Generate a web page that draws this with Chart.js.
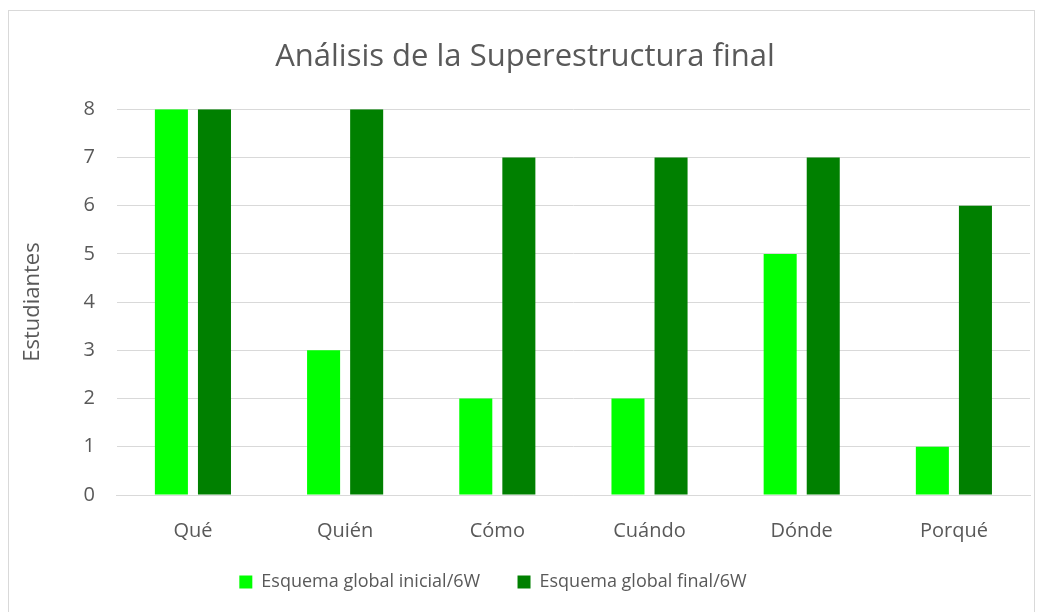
<!DOCTYPE html>
<html>
<head>
<meta charset="utf-8">
<script src="https://cdn.jsdelivr.net/npm/chart.js@4"></script>
<style>
  body { margin: 0; background: #fff; }
  .wrap { position: relative; width: 1045px; height: 612px; }
  .frame { position: absolute; left: 8px; top: 10px; width: 1027px; height: 610px; border: 1px solid #d9d9d9; box-sizing: border-box; }
  canvas { position: absolute; left: 0; top: 0; }
</style>
</head>
<body>
<div class="wrap">
  <div class="frame"></div>
  <canvas id="chart" width="1045" height="612"></canvas>
</div>
<script>
const categories = ['Qué', 'Quién', 'Cómo', 'Cuándo', 'Dónde', 'Porqué'];
const inicial = [8, 3, 2, 2, 5, 1];
const final = [8, 8, 7, 7, 7, 6];
const seriesNames = ['Esquema global inicial/6W', 'Esquema global final/6W'];

const textColor = '#595959';
const fontFamily = "'Open Sans', 'Noto Sans', sans-serif";

// el legend de Excel queda algo a la izquierda del centro
const shiftLegend = {
    id: 'shiftLegend',
    afterLayout(chart) {
        chart.legend.left -= 32;
        chart.legend.right -= 32;
    }
};

new Chart(document.getElementById('chart'), {
    type: 'bar',
    data: {
        labels: categories,
        datasets: [
            {
                label: seriesNames[0],
                data: inicial,
                backgroundColor: '#00ff00',
                categoryPercentage: 0.566,
                barPercentage: 0.767
            },
            {
                label: seriesNames[1],
                data: final,
                backgroundColor: '#008000',
                categoryPercentage: 0.566,
                barPercentage: 0.767
            }
        ]
    },
    options: {
        responsive: false,
        animation: false,
        layout: {
            padding: { left: 20, right: 15, top: 20, bottom: 11 }
        },
        scales: {
            x: {
                grid: { display: false },
                border: { color: '#d9d9d9' },
                ticks: { color: textColor, font: { family: fontFamily, size: 20 }, padding: 16 }
            },
            y: {
                min: 0,
                max: 8,
                ticks: { stepSize: 1, color: textColor, font: { family: fontFamily, size: 20 }, padding: 22 },
                grid: { color: '#d9d9d9', drawTicks: false },
                border: { display: false },
                title: {
                    display: true,
                    text: 'Estudiantes',
                    color: textColor,
                    font: { family: fontFamily, size: 22 },
                    padding: { top: 0, bottom: 15 }
                }
            }
        },
        plugins: {
            title: {
                display: true,
                text: 'Análisis de la Superestructura final',
                color: textColor,
                font: { family: fontFamily, size: 31, weight: 'normal' },
                padding: { top: 19, bottom: 33 }
            },
            legend: {
                position: 'bottom',
                labels: {
                    color: textColor,
                    font: { family: fontFamily, size: 18 },
                    boxWidth: 13,
                    boxHeight: 13,
                    padding: 14,
                    generateLabels(chart) {
                        const items = Chart.defaults.plugins.legend.labels.generateLabels(chart);
                        items[0].text = items[0].text + '     ';
                        return items;
                    }
                }
            },
            tooltip: { enabled: false }
        }
    },
    plugins: [shiftLegend]
});
</script>
</body>
</html>
